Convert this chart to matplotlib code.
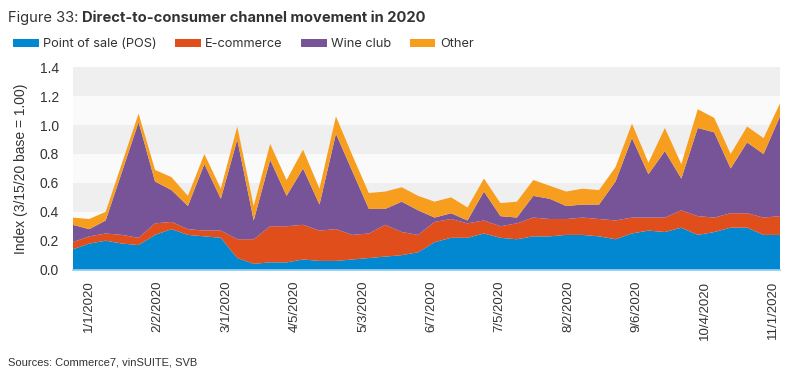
import numpy as np
import matplotlib
matplotlib.use("Agg")
import matplotlib.pyplot as plt

# weekly index values (3/15/20 base = 1.00)
pos = [0.14, 0.18, 0.20, 0.18, 0.17, 0.24, 0.28, 0.24, 0.23, 0.22,
       0.08, 0.04, 0.05, 0.05, 0.07, 0.06, 0.06, 0.07, 0.08, 0.09,
       0.10, 0.12, 0.19, 0.22, 0.22, 0.25, 0.22, 0.21, 0.23, 0.23,
       0.24, 0.24, 0.23, 0.21, 0.25, 0.27, 0.26, 0.29, 0.24, 0.26,
       0.29, 0.29, 0.24, 0.24]
ecommerce = [0.05, 0.05, 0.05, 0.06, 0.05, 0.08, 0.05, 0.04, 0.04, 0.05,
             0.13, 0.17, 0.25, 0.25, 0.24, 0.21, 0.22, 0.17, 0.17, 0.22,
             0.16, 0.12, 0.14, 0.13, 0.10, 0.09, 0.08, 0.11, 0.13, 0.12,
             0.11, 0.12, 0.12, 0.13, 0.11, 0.09, 0.10, 0.12, 0.13, 0.10,
             0.10, 0.10, 0.12, 0.13]
wine_club = [0.12, 0.05, 0.09, 0.44, 0.80, 0.29, 0.22, 0.16, 0.46, 0.22,
             0.69, 0.13, 0.46, 0.21, 0.39, 0.18, 0.66, 0.44, 0.17, 0.11,
             0.21, 0.17, 0.03, 0.04, 0.02, 0.20, 0.07, 0.04, 0.15, 0.14,
             0.09, 0.09, 0.10, 0.27, 0.55, 0.30, 0.46, 0.22, 0.61, 0.59,
             0.31, 0.49, 0.44, 0.69]
other = [0.05, 0.07, 0.06, 0.06, 0.06, 0.08, 0.09, 0.07, 0.07, 0.07,
         0.09, 0.10, 0.11, 0.11, 0.13, 0.11, 0.12, 0.11, 0.11, 0.12,
         0.10, 0.10, 0.11, 0.11, 0.09, 0.09, 0.09, 0.11, 0.11, 0.09,
         0.10, 0.11, 0.10, 0.10, 0.10, 0.08, 0.16, 0.10, 0.13, 0.10,
         0.10, 0.11, 0.11, 0.09]
series_names = ["Point of sale (POS)", "E-commerce", "Wine club", "Other"]
date_labels = ["1/1/2020", "2/2/2020", "3/1/2020", "4/5/2020", "5/3/2020",
               "6/7/2020", "7/5/2020", "8/2/2020", "9/6/2020", "10/4/2020",
               "11/1/2020"]

colors = ["#0288d1", "#e04e1c", "#775398", "#f79e1e"]

fig = plt.figure(figsize=(8, 3.76), dpi=100)
ax = fig.add_axes([0.091, 0.283, 0.884, 0.538])

x = np.arange(len(pos))
stacks = ax.stackplot(x, pos, ecommerce, wine_club, other, colors=colors,
                      labels=series_names, linewidth=0, zorder=2)

# alternating background bands
for i, lo in enumerate(np.arange(0, 1.4, 0.2)):
    ax.axhspan(lo, lo + 0.2, color="#efefef" if i % 2 == 0 else "#fafafa",
               lw=0, zorder=0)

ax.set_xlim(0, len(pos) - 1)
ax.set_ylim(0, 1.4)
ax.set_yticks(np.arange(0, 1.41, 0.2))
ax.set_yticklabels([f"{v:.1f}" for v in np.arange(0, 1.41, 0.2)],
                   fontsize=10, color="#333333", family="Liberation Sans")
ax.set_xticks(np.linspace(1, len(pos) - 1.4, len(date_labels)))
ax.set_xticklabels(date_labels, rotation=90, fontsize=9.5, color="#333333",
                   family="Liberation Sans")
ax.tick_params(length=0, pad=8)
ax.tick_params(axis="y", pad=10)
for s in ["top", "right", "left"]:
    ax.spines[s].set_visible(False)
ax.spines["bottom"].set_color("#8ccaf0")
ax.spines["bottom"].set_linewidth(1.2)
ax.spines["bottom"].set_zorder(3)
ax.set_ylabel("Index (3/15/20 base = 1.00)", fontsize=10, color="#333333",
              family="Liberation Sans", labelpad=8)

# title in two weights
t1 = fig.text(0.01, 0.952, "Figure 33: ", fontsize=10.6, family="Inter",
              color="#333333", va="center")
fig.canvas.draw()
bb = t1.get_window_extent()
fig.text(bb.x1 / fig.bbox.width, 0.952,
         "Direct-to-consumer channel movement in 2020", fontsize=10.6,
         family="Inter", fontweight="bold", color="#333333", va="center")

fig.legend(handles=stacks, labels=series_names, loc="center left",
           bbox_to_anchor=(0.005, 0.882), ncol=4, frameon=False,
           prop={"family": "Inter", "size": 9.2}, handlelength=2.0,
           handleheight=0.55, handletextpad=0.35, columnspacing=1.45,
           labelcolor="#333333", borderpad=0.2)

fig.text(0.01, 0.035, "Sources: Commerce7, vinSUITE, SVB", fontsize=8,
         family=["Liberation Sans Narrow", "Liberation Sans"],
         color="#333333", va="center")

fig.savefig("out.png", dpi=100)
